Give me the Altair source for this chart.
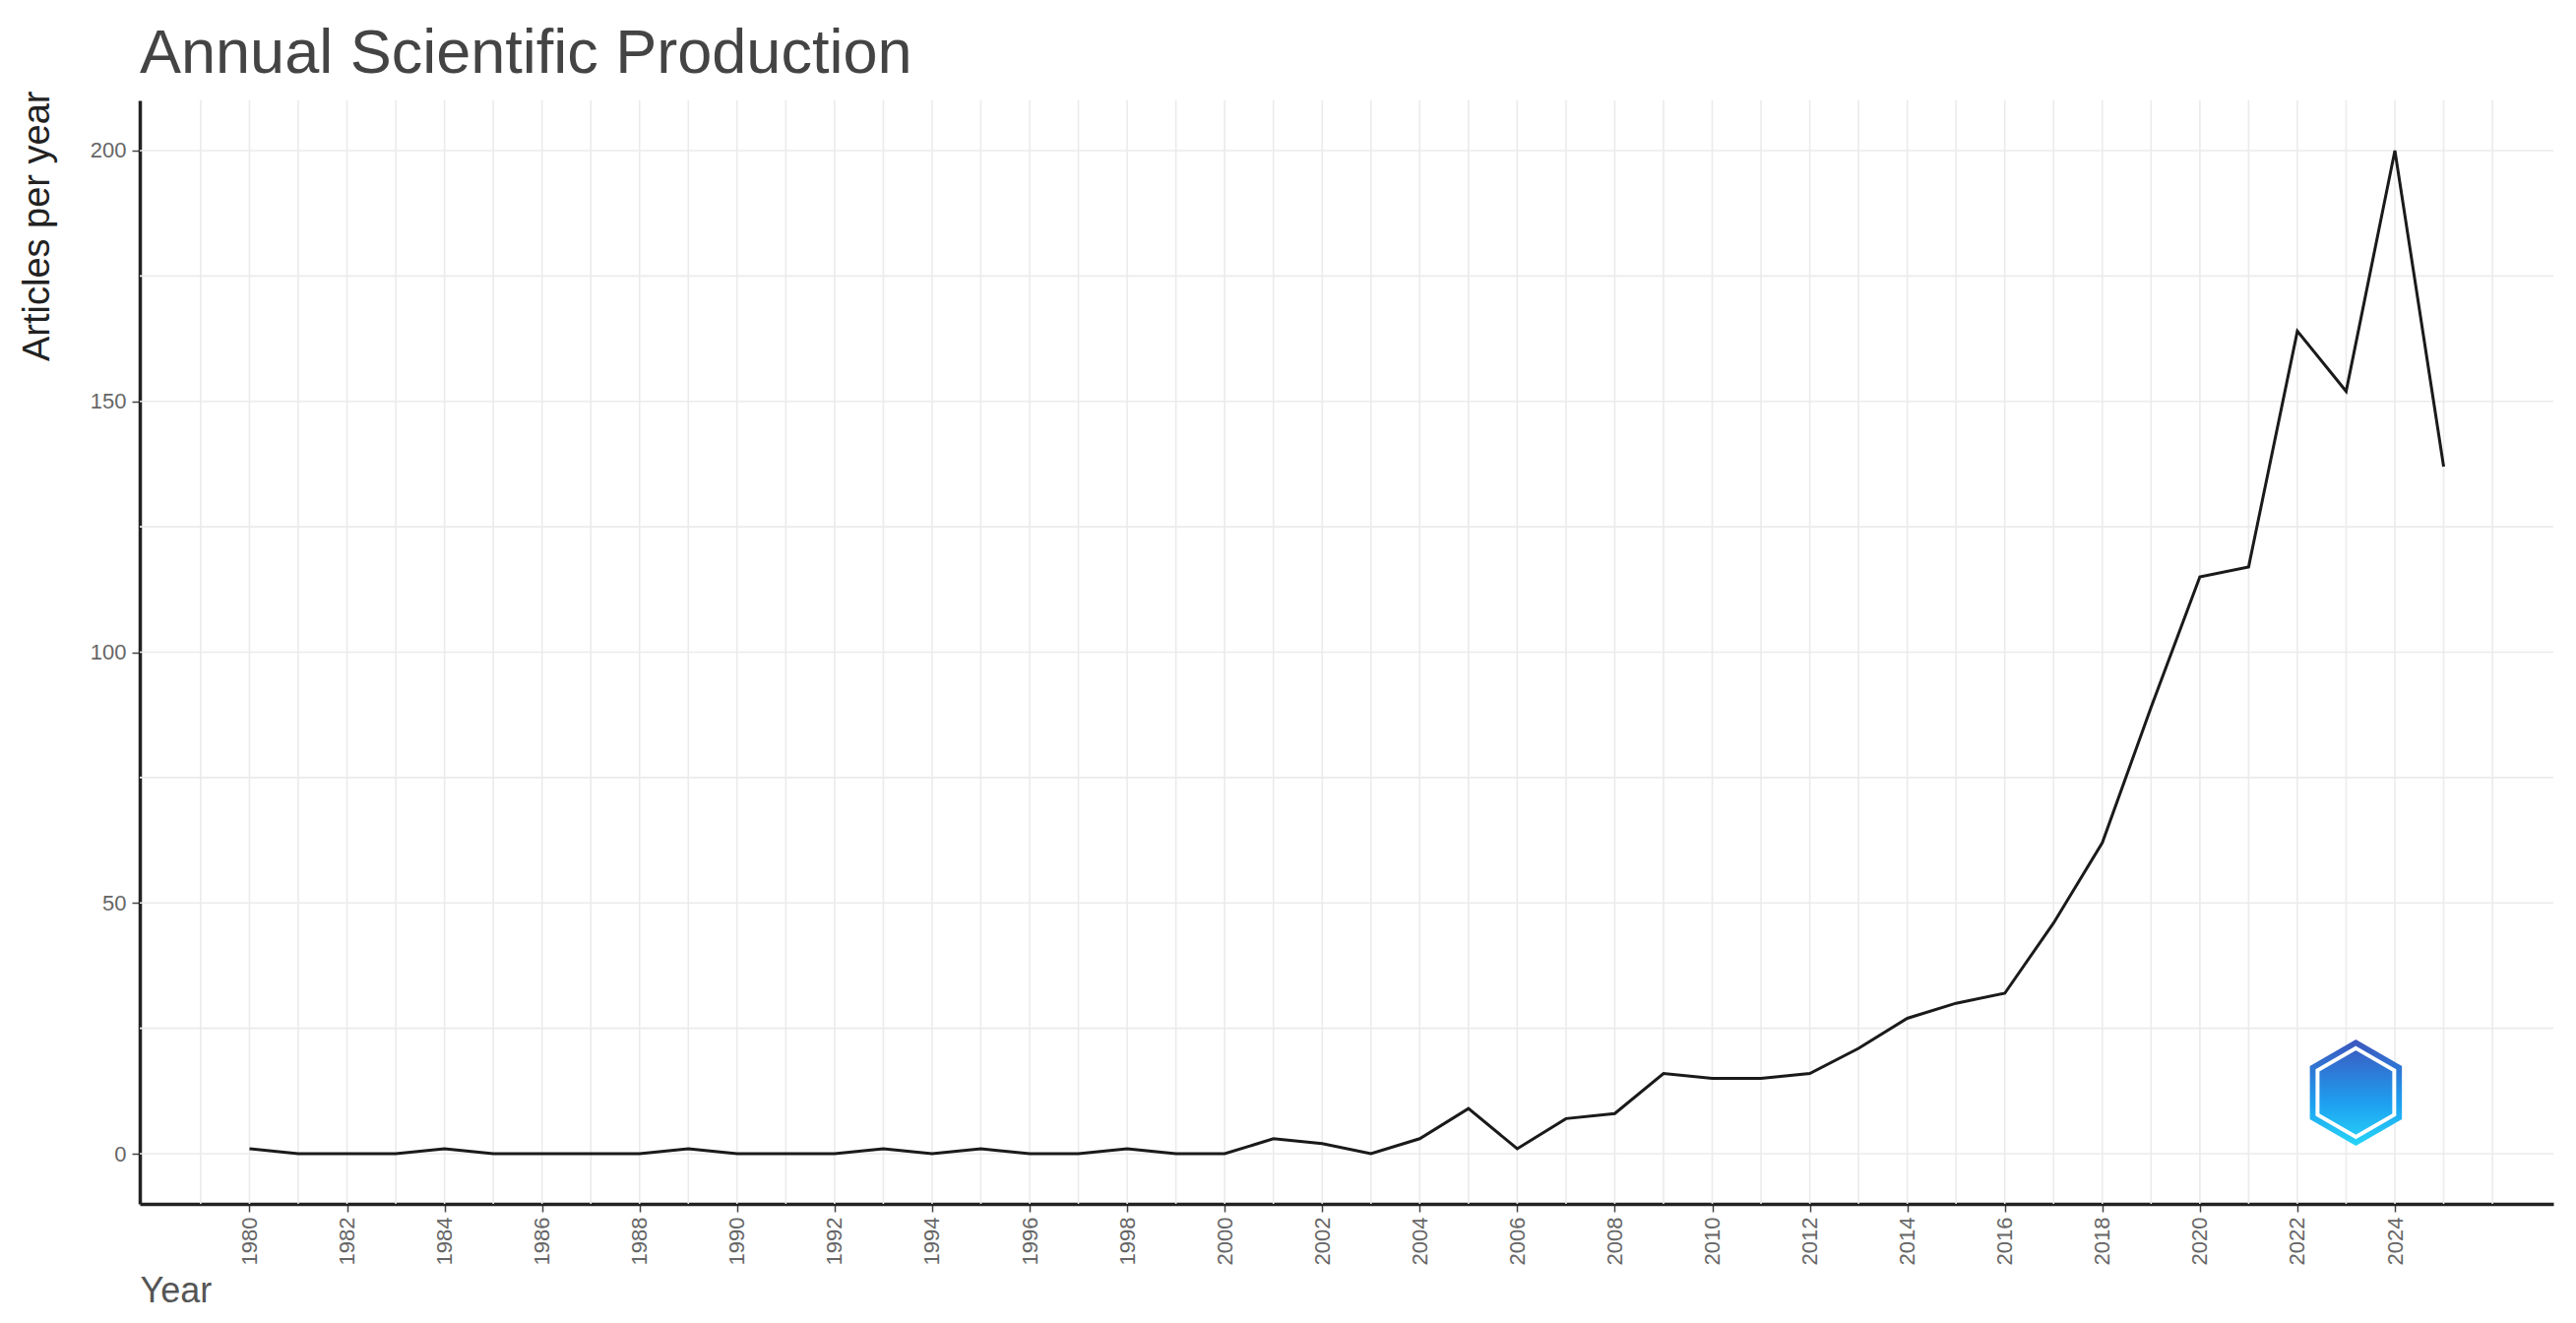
import altair as alt
import pandas as pd

# ---- data ----
years = list(range(1980, 2026))
articles = [1, 0, 0, 0, 1, 0, 0, 0, 0, 1,
            0, 0, 0, 1, 0, 1, 0, 0, 1, 0,
            0, 3, 2, 0, 3, 9, 1, 7, 8, 16,
            15, 15, 16, 21, 27, 30, 32, 46, 62, 89,
            115, 117, 164, 152, 200, 137]

x_tick_years = list(range(1980, 2025, 2))
y_tick_values = [0, 50, 100, 150, 200]
grid_years = list(range(1979, 2027))
grid_values = [0, 25, 50, 75, 100, 125, 150, 175, 200]

logo_pos = pd.DataFrame({"year": [2023.2], "articles": [12.2]})

df = pd.DataFrame({"year": years, "articles": articles})
gx = pd.DataFrame({"year": grid_years})
gy = pd.DataFrame({"articles": grid_values})

FONT = "Liberation Sans"
xscale = alt.Scale(domain=[1977.75, 2027.25], nice=False, zero=False)
yscale = alt.Scale(domain=[-10, 210], nice=False, zero=False)

xaxis = alt.Axis(
    values=x_tick_years, format="d", labelAngle=270,
    labelFont=FONT, labelFontSize=22, labelColor="#666666",
    labelPadding=5, grid=False,
    domainColor="#222222", domainWidth=3.5,
    tickColor="#444444", tickSize=8, tickWidth=1.5,
    title="Year", titleFont=FONT, titleFontSize=36,
    titleFontWeight="normal", titleColor="#555555",
    titleAnchor="start", titleAlign="left", titleBaseline="alphabetic",
    titleX=0, titleY=99,
)
yaxis = alt.Axis(
    values=y_tick_values, labelFont=FONT, labelFontSize=22,
    labelColor="#666666", labelPadding=6, grid=False,
    domainColor="#222222", domainWidth=3.5,
    tickColor="#444444", tickSize=8, tickWidth=1.5,
    title="Articles per year", titleFont=FONT, titleFontSize=38,
    titleFontWeight="normal", titleColor="#222222",
    titleAngle=270, titleAlign="right", titleBaseline="middle",
    titleX=-104, titleY=-10,
)

X = alt.X("year:Q", scale=xscale, axis=xaxis)
Y = alt.Y("articles:Q", scale=yscale, axis=yaxis)

vgrid = alt.Chart(gx).mark_rule(color="#ebebeb", strokeWidth=1.6).encode(x=X)
hgrid = alt.Chart(gy).mark_rule(color="#ebebeb", strokeWidth=1.6).encode(y=Y)

line = alt.Chart(df).mark_line(color="#1a1a1a", strokeWidth=3).encode(x=X, y=Y)

hexagon = "M0,-1 L0.866,-0.5 L0.866,0.5 L0,1 L-0.866,0.5 L-0.866,-0.5 Z"
grad = alt.Gradient(
    gradient="linear",
    stops=[alt.GradientStop(color="#3d55bd", offset=0),
           alt.GradientStop(color="#1e9ff0", offset=0.6),
           alt.GradientStop(color="#26d6f7", offset=1)],
    x1=0, x2=0, y1=0, y2=1,
)
logo_outer = alt.Chart(logo_pos).mark_point(
    shape=hexagon, filled=True, fill=grad, opacity=1, size=11664, strokeWidth=0
).encode(x=X, y=Y)
logo_ring = alt.Chart(logo_pos).mark_point(
    shape=hexagon, filled=False, stroke="white", strokeWidth=4, opacity=1, size=8100
).encode(x=X, y=Y)

chart = alt.layer(vgrid, hgrid, line, logo_outer, logo_ring).properties(
    width=2452,
    height=1121,
    padding={"left": 134, "top": 94, "right": 10, "bottom": 112},
    autosize=alt.AutoSizeParams(type="none"),
    background="white",
    title=alt.Title(
        "Annual Scientific Production", anchor="start", frame="group",
        font=FONT, fontSize=63, fontWeight="normal", color="#444444",
        offset=5,
    ),
).configure_view(stroke=None)

chart.save("out.html", embed_options={"renderer": "svg", "actions": False})
